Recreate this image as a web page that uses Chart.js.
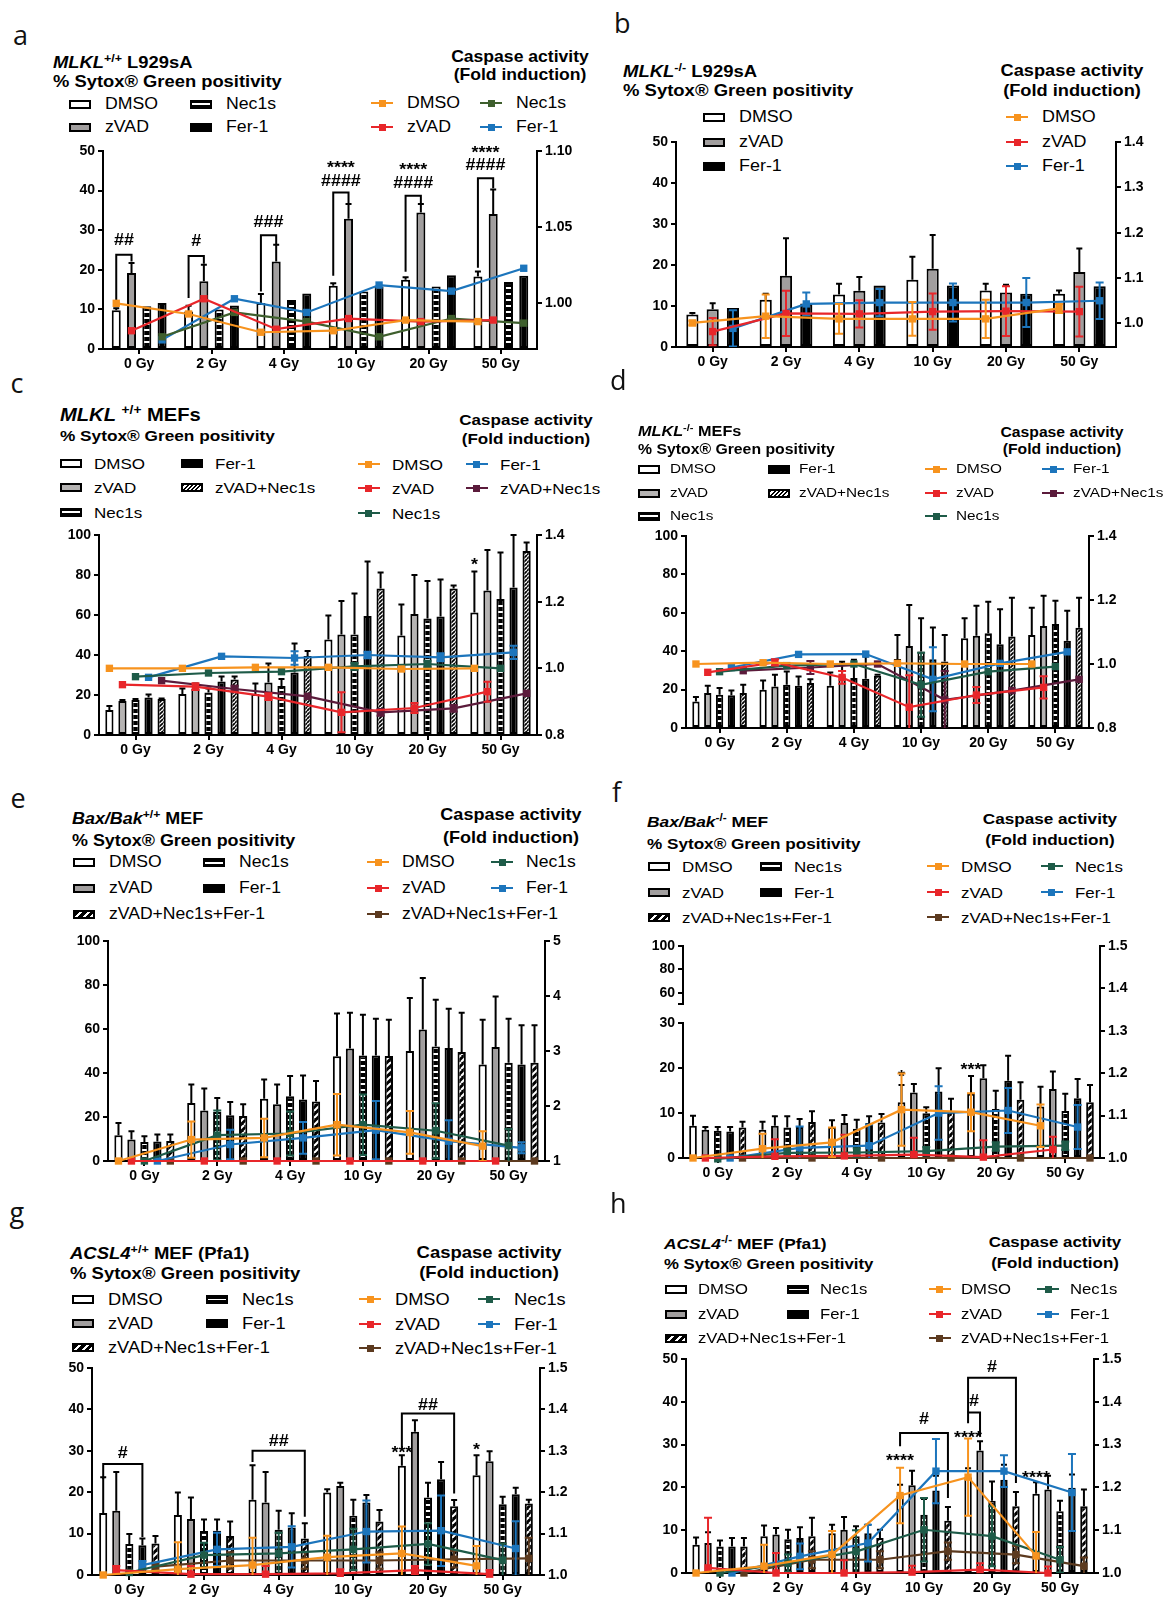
<!DOCTYPE html>
<html>
<head>
<meta charset="utf-8">
<title>Sytox Green / caspase activity panels</title>
<script src="https://cdn.jsdelivr.net/npm/chart.js@4.4.1/dist/chart.umd.min.js"></script>
<style>
  html, body { margin: 0; padding: 0; background: #fff; }
  body { position: relative; width: 1170px; height: 1603px; overflow: hidden;
         font-family: "Liberation Sans", Arial, sans-serif; color: #000; }
  .t { position: absolute; white-space: nowrap; line-height: 1; }
  .t sup { font-size: 0.68em; line-height: 0; vertical-align: 0.55em; }
  .letter { position: absolute; font-family: "Open Sans", sans-serif; font-size: 27px; line-height: 1; color: #111; }
  .ico { position: absolute; box-sizing: border-box; }
  canvas { position: absolute; }
</style>
</head>
<body>
<script>
const doses = ['0 Gy', '2 Gy', '4 Gy', '10 Gy', '20 Gy', '50 Gy'];

// a - MLKL+/+ L929sA
const aTicksL = [0, 10, 20, 30, 40, 50];
const aTicksR = [1.00, 1.05, 1.10];
const aDMSO = [9.8, 9.5, 11.6, 16.0, 17.5, 18.3];
const aDMSOErr = [0.5, 1.4, 2.3, 0.6, 0.6, 1.3];
const aZVAD = [19.2, 17.1, 22.1, 32.9, 34.5, 34.1];
const aZVADErr = [2.5, 4.2, 4.2, 3.7, 2.1, 6.2];
const aNec1s = [10.8, 10.0, 12.4, 14.5, 15.8, 16.9];
const aFer1 = [11.6, 11.0, 14.0, 15.8, 18.6, 18.5];
const aCasDMSO = [1.000, 0.993, 0.981, 0.982, 0.989, 0.988];
const aCasZVAD = [0.982, 1.003, 0.983, 0.990, 0.988, 0.989];
const aCasNec1s = [0.978, 0.994, 0.988, 0.978, 0.990, 0.987];
const aCasFer1 = [0.976, 1.003, 0.994, 1.012, 1.008, 1.023];
const aMarks = [
  {type: 'bracket', g: 0, b1: 0, b2: 1, v: 23.8, v1: 12.0, v2: 22.1}, {type: 'text', g: 0, b1: 0, b2: 1, v: 27.5, t: '##'},
  {type: 'bracket', g: 1, b1: 0, b2: 1, v: 23.5, v1: 12.9, v2: 21.5}, {type: 'text', g: 1, b1: 0, b2: 1, v: 27.0, t: '#'},
  {type: 'bracket', g: 2, b1: 0, b2: 1, v: 28.7, v1: 14.5, v2: 26.5}, {type: 'text', g: 2, b1: 0, b2: 1, v: 31.9, t: '###'},
  {type: 'bracket', g: 3, b1: 0, b2: 1, v: 39.5, v1: 18.5, v2: 36.8}, {type: 'text', g: 3, b1: 0, b2: 1, v: 42.3, t: '####'},
  {type: 'text', g: 3, b1: 0, b2: 1, v: 46.5, t: '****'},
  {type: 'bracket', g: 4, b1: 0, b2: 1, v: 38.7, v1: 19.5, v2: 36.8}, {type: 'text', g: 4, b1: 0, b2: 1, v: 41.8, t: '####'},
  {type: 'text', g: 4, b1: 0, b2: 1, v: 46.1, t: '****'},
  {type: 'bracket', g: 5, b1: 0, b2: 1, v: 43.1, v1: 20.5, v2: 40.6}, {type: 'text', g: 5, b1: 0, b2: 1, v: 46.3, t: '####'},
  {type: 'text', g: 5, b1: 0, b2: 1, v: 50.4, t: '****'}
];

// b - MLKL-/- L929sA
const bTicksL = [0, 10, 20, 30, 40, 50];
const bTicksR = [1.0, 1.1, 1.2, 1.3, 1.4];
const bDMSO = [7.9, 11.5, 12.8, 16.4, 13.8, 13.0];
const bDMSOErr = [0.4, 1.5, 2.6, 5.6, 1.6, 0.8];
const bZVAD = [9.2, 17.4, 13.7, 19.1, 13.3, 18.3];
const bZVADErr = [1.5, 9.1, 3.4, 8.2, 1.9, 5.7];
const bFer1 = [9.5, 10.6, 15.0, 15.0, 13.0, 14.8];
const bCasDMSO = [1.001, 1.016, 1.010, 1.010, 1.010, 1.033];
const bCasDMSOErr = [0.005, 0.048, 0.033, 0.037, 0.042, 0.010];
const bCasZVAD = [0.982, 1.022, 1.021, 1.026, 1.027, 1.026];
const bCasZVADErr = [0.030, 0.050, 0.030, 0.040, 0.055, 0.055];
const bCasFer1 = [0.989, 1.043, 1.046, 1.046, 1.046, 1.050];
const bCasFer1Err = [0.040, 0.025, 0.030, 0.042, 0.054, 0.040];

// c - MLKL+/+ MEFs
const cTicksL = [0, 20, 40, 60, 80, 100];
const cTicksR = [0.8, 1.0, 1.2, 1.4];
const cDMSO = [12.5, 20.5, 20.5, 47.8, 49.7, 61.2];
const cDMSOErr = [2.0, 2.8, 5.3, 11.9, 15.6, 20.5];
const cZVAD = [17.0, 23.3, 26.3, 50.3, 60.5, 72.2];
const cZVADErr = [0.5, 2.5, 9.5, 16.7, 19.5, 20.3];
const cNec1s = [17.5, 21.3, 24.5, 50.3, 58.3, 68.0];
const cNec1sErr = [0.5, 2.0, 3.5, 20.5, 18.7, 23.3];
const cFer1 = [18.8, 26.7, 31.2, 59.5, 59.2, 73.7];
const cFer1Err = [1.5, 2.5, 14.6, 27.2, 18.6, 26.3];
const cZN = [18.0, 27.8, 39.5, 73.3, 73.3, 92.0];
const cZNErr = [0.3, 1.4, 2.5, 8.0, 1.4, 4.3];
const cCasDMSO = [1.000, 1.000, 1.003, 1.003, 0.998, 1.000];
const cCasZVAD = [0.951, 0.945, 0.915, 0.868, 0.881, 0.930];
const cCasZVADErr = [0, 0.010, 0.010, 0.060, 0.015, 0.030];
const cCasNec1s = [0.975, 0.986, 0.990, 1.006, 1.013, 1.000];
const cCasNec1sErr = [0, 0, 0, 0.010, 0.010, 0];
const cCasFer1 = [0.973, 1.036, 1.031, 1.040, 1.033, 1.048];
const cCasFer1Err = [0, 0, 0.020, 0.010, 0.012, 0.020];
const cCasZN = [0.963, 0.938, 0.916, 0.868, 0.880, 0.925];
const cCasZNErr = [0, 0.010, 0, 0.010, 0.010, 0];
const cMarks = [{type: 'text', g: 5, b1: 0, v: 86.7, t: '*'}];

// d - MLKL-/- MEFs
const dTicksL = [0, 20, 40, 60, 80, 100];
const dTicksR = [0.8, 1.0, 1.2, 1.4];
const dDMSO = [13.8, 19.9, 22.0, 36.0, 46.7, 48.4];
const dDMSOErr = [2.3, 4.8, 6.9, 12.4, 10.4, 14.2];
const dZVAD = [18.2, 21.6, 27.5, 42.7, 48.1, 53.1];
const dZVADErr = [3.8, 6.1, 7.0, 21.3, 15.6, 15.8];
const dNec1s = [17.3, 22.5, 26.0, 39.8, 49.3, 54.2];
const dNec1sErr = [3.5, 6.9, 9.5, 17.3, 16.4, 12.1];
const dFer1 = [17.0, 22.0, 25.6, 35.8, 43.6, 45.5];
const dFer1Err = [2.5, 4.8, 11.6, 16.6, 18.2, 15.6];
const dZN = [18.2, 23.4, 27.2, 34.6, 47.6, 52.2];
const dZNErr = [4.3, 2.0, 0.5, 13.8, 20.2, 15.6];
const dCasDMSO = [1.000, 1.004, 1.000, 1.002, 1.000, 1.000];
const dCasZVAD = [0.974, 1.005, 0.958, 0.865, 0.903, 0.927];
const dCasZVADErr = [0, 0.010, 0.020, 0.100, 0.025, 0.035];
const dCasNec1s = [0.976, 0.995, 1.000, 0.935, 0.976, 0.992];
const dCasNec1sErr = [0, 0, 0, 0.100, 0, 0];
const dCasFer1 = [0.989, 1.030, 1.031, 0.952, 1.002, 1.038];
const dCasFer1Err = [0, 0, 0, 0.100, 0, 0];
const dCasZN = [0.979, 0.989, 1.000, 0.888, 0.917, 0.952];
const dCasZNErr = [0, 0.020, 0, 0.090, 0, 0];

// e - Bax/Bak+/+ MEF
const eTicksL = [0, 20, 40, 60, 80, 100];
const eTicksR = [1, 2, 3, 4, 5];
const eDMSO = [11.7, 26.4, 28.3, 47.6, 50.0, 43.9];
const eDMSOErr = [5.6, 8.4, 8.7, 19.4, 24.1, 20.3];
const eZVAD = [9.8, 23.0, 25.8, 51.1, 59.8, 51.8];
const eZVADErr = [3.7, 9.9, 9.0, 16.3, 23.4, 23.0];
const eNec1s = [8.6, 22.3, 29.4, 48.0, 52.1, 44.7];
const eNec1sErr = [2.6, 6.3, 9.2, 18.5, 21.2, 20.0];
const eFer1 = [8.9, 20.8, 28.0, 48.0, 51.4, 43.9];
const eFer1Err = [3.1, 6.0, 10.9, 16.7, 17.8, 17.8];
const eZNF = [9.1, 20.5, 27.1, 47.7, 49.5, 44.7];
const eZNFErr = [2.9, 5.3, 9.3, 16.5, 17.9, 17.0];
const eCasDMSO = [1.00, 1.39, 1.42, 1.66, 1.52, 1.27];
const eCasDMSOErr = [0, 0.33, 0.35, 0.56, 0.39, 0.27];
const eCasZVAD = [1.00, 1.00, 1.00, 1.00, 1.00, 1.00];
const eCasNec1s = [1.00, 1.47, 1.50, 1.66, 1.55, 1.28];
const eCasNec1sErr = [0, 0.45, 0.40, 0.55, 0.50, 0.30];
const eCasFer1 = [1.00, 1.30, 1.42, 1.56, 1.36, 1.24];
const eCasFer1Err = [0, 0.27, 0.29, 0.53, 0.38, 0.10];
const eCasZNF = [1.00, 1.00, 1.00, 1.00, 1.00, 1.00];

// f - Bax/Bak-/- MEF (broken left axis)
const fTicksLow = [0, 10, 20, 30];
const fTicksHigh = [50, 60, 80, 100];
const fTicksR = [1.0, 1.1, 1.2, 1.3, 1.4, 1.5];
const fDMSO = [7.2, 6.3, 6.9, 12.4, 14.3, 11.5];
const fDMSOErr = [2.2, 1.8, 1.5, 3.9, 4.0, 4.4];
const fZVAD = [6.3, 7.2, 7.8, 14.6, 17.8, 15.4];
const fZVADErr = [0.6, 2.1, 1.8, 1.9, 2.9, 3.9];
const fNec1s = [6.1, 6.8, 6.5, 10.0, 10.9, 10.5];
const fNec1sErr = [0.8, 2.5, 2.0, 1.3, 4.1, 3.8];
const fFer1 = [5.9, 6.9, 7.8, 14.8, 17.2, 13.3];
const fFer1Err = [1.0, 1.8, 1.5, 5.2, 5.6, 4.3];
const fZNF = [6.8, 8.0, 7.9, 10.5, 13.0, 12.4];
const fZNFErr = [1.3, 2.4, 1.9, 2.7, 3.9, 3.9];
const fCasDMSO = [1.000, 1.022, 1.037, 1.114, 1.108, 1.076];
const fCasDMSOErr = [0, 0.035, 0.035, 0.085, 0.045, 0.050];
const fCasZVAD = [1.000, 1.004, 1.005, 1.008, 1.002, 1.020];
const fCasZVADErr = [0, 0.040, 0.050, 0.040, 0.040, 0.030];
const fCasNec1s = [0.998, 1.012, 1.013, 1.016, 1.027, 1.029];
const fCasNec1sErr = [0, 0.010, 0.010, 0.010, 0.010, 0.010];
const fCasFer1 = [1.000, 1.024, 1.029, 1.106, 1.112, 1.073];
const fCasFer1Err = [0, 0.050, 0.050, 0.063, 0.053, 0.052];
const fCasZNF = [1.000, 1.000, 1.000, 1.000, 1.000, 1.000];
const fMarks = [{type: 'text', g: 3, b1: 0, v: 18.9, t: '*'}, {type: 'text', g: 4, b1: 0, v: 20.4, t: '***'}];

// g - ACSL4+/+ MEF (Pfa1)
const gTicksL = [0, 10, 20, 30, 40, 50];
const gTicksR = [1.0, 1.1, 1.2, 1.3, 1.4, 1.5];
const gDMSO = [15.0, 14.5, 18.2, 19.9, 26.4, 24.1];
const gDMSOErr = [8.6, 5.4, 8.3, 0.8, 2.5, 4.8];
const gZVAD = [15.5, 13.5, 17.5, 21.5, 34.6, 27.5];
const gZVADErr = [9.4, 5.2, 7.4, 0.8, 2.8, 2.4];
const gNec1s = [7.5, 10.6, 10.9, 14.3, 18.7, 17.1];
const gNec1sErr = [2.4, 2.8, 4.6, 3.9, 3.6, 1.8];
const gFer1 = [7.2, 10.7, 11.5, 17.5, 23.1, 19.5];
const gFer1Err = [1.6, 2.7, 3.4, 1.8, 4.2, 1.6];
const gZNF = [7.6, 9.4, 8.8, 12.9, 16.6, 17.3];
const gZNFErr = [1.8, 3.5, 3.7, 2.8, 1.5, 0.9];
const gCasDMSO = [1.000, 1.014, 1.024, 1.043, 1.052, 1.022];
const gCasDMSOErr = [0, 0.065, 0.066, 0.052, 0.065, 0.048];
const gCasZVAD = [1.012, 1.002, 1.002, 1.004, 1.012, 1.002];
const gCasZVADErr = [0.010, 0.020, 0.020, 0.010, 0.010, 0.010];
const gCasNec1s = [1.006, 1.048, 1.052, 1.062, 1.075, 1.036];
const gCasNec1sErr = [0, 0.030, 0.050, 0.050, 0.050, 0.040];
const gCasFer1 = [1.024, 1.062, 1.068, 1.105, 1.107, 1.064];
const gCasFer1Err = [0.010, 0.040, 0.050, 0.075, 0.085, 0.066];
const gCasZNF = [1.020, 1.035, 1.035, 1.035, 1.038, 1.040];
const gCasZNFErr = [0.010, 0.020, 0.020, 0.020, 0.020, 0.050];
const gMarks = [
  {type: 'bracket', g: 0, b1: 0, b2: 3, v: 26.8, v1: 23.1, v2: 9.2}, {type: 'text', g: 0, b1: 0, b2: 3, v: 29.3, t: '#'},
  {type: 'bracket', g: 2, b1: 0, b2: 4, v: 30.0, v1: 27.3, v2: 14.1}, {type: 'text', g: 2, b1: 0, b2: 4, v: 32.2, t: '##'},
  {type: 'bracket', g: 4, b1: 0, b2: 4, v: 39.0, v1: 30.5, v2: 19.7}, {type: 'text', g: 4, b1: 0, b2: 4, v: 40.8, t: '##'},
  {type: 'text', g: 4, b1: 0, v: 30.3, t: '***'},
  {type: 'text', g: 5, b1: 0, v: 31.1, t: '*'}
];

// h - ACSL4-/- MEF (Pfa1)
const hTicksL = [0, 10, 20, 30, 40, 50];
const hTicksR = [1.0, 1.1, 1.2, 1.3, 1.4, 1.5];
const hDMSO = [6.6, 8.6, 9.3, 18.1, 22.4, 18.5];
const hDMSOErr = [1.7, 2.5, 2.0, 2.5, 2.1, 2.7];
const hZVAD = [7.0, 9.0, 10.1, 20.5, 28.6, 19.5];
const hZVADErr = [2.5, 1.5, 3.0, 3.4, 2.2, 3.2];
const hNec1s = [6.2, 7.9, 8.6, 13.6, 16.9, 14.4];
const hNec1sErr = [1.4, 2.2, 2.3, 3.7, 4.5, 2.5];
const hFer1 = [6.2, 8.2, 9.3, 19.3, 21.8, 19.9];
const hFer1Err = [2.0, 2.5, 2.0, 3.4, 3.5, 3.1];
const hZNF = [6.2, 8.6, 8.2, 12.2, 15.6, 15.6];
const hZNFErr = [2.0, 4.3, 1.9, 3.2, 3.3, 3.9];
const hCasDMSO = [1.000, 1.016, 1.043, 1.181, 1.224, 1.040];
const hCasDMSOErr = [0, 0.050, 0.055, 0.065, 0.090, 0.056];
const hCasZVAD = [1.012, 1.000, 1.000, 1.002, 1.008, 1.000];
const hCasZVADErr = [0.117, 0.047, 0.030, 0.015, 0.015, 0.015];
const hCasNec1s = [1.000, 1.023, 1.050, 1.101, 1.086, 1.031];
const hCasNec1sErr = [0, 0.020, 0.050, 0.074, 0.070, 0.030];
const hCasFer1 = [1.000, 1.039, 1.070, 1.238, 1.238, 1.188];
const hCasFer1Err = [0, 0.030, 0.043, 0.075, 0.037, 0.090];
const hCasZNF = [1.000, 1.031, 1.031, 1.051, 1.043, 1.016];
const hCasZNFErr = [0, 0.020, 0.020, 0.020, 0.020, 0.020];
const hMarks = [
  {type: 'text', g: 3, b1: 0, v: 26.9, t: '****'},
  {type: 'bracket', g: 3, b1: 0, b2: 4, v: 32.7, v1: 29.6, v2: 17.5}, {type: 'text', g: 3, b1: 0, b2: 4, v: 35.8, t: '#'},
  {type: 'text', g: 4, b1: 0, v: 32.3, t: '****'},
  {type: 'bracket', g: 4, b1: 0, b2: 1, v: 37.5, v1: 35.0, v2: 31.9}, {type: 'text', g: 4, b1: 0, b2: 1, v: 40.1, t: '#'},
  {type: 'bracket', g: 4, b1: 0, b2: 4, v: 45.6, v1: 37.5, v2: 21.0}, {type: 'text', g: 4, b1: 0, b2: 4, v: 47.9, t: '#'},
  {type: 'text', g: 5, b1: 0, v: 23.0, t: '****'}
];

const GRAY = '#a19e9e', GRAY2 = '#b5b3b2';
const COL = {dmso: '#f7931e', zvad: '#e8262a', nec: '#1e5b48', necA: '#3e5f2d', fer: '#1c75bc', zn: '#5b1b3b', znf: '#5c3a1f'};
const STRETCH = 1.12;
const FONT = '"Liberation Sans", Arial, sans-serif';

// ---------- text + legends ----------
function addText(html, x, base, size, bold, center) {
  const el = document.createElement('div');
  el.className = 't';
  el.innerHTML = html;
  el.style.fontSize = size + 'px';
  el.style.fontWeight = bold ? 'bold' : 'normal';
  el.style.left = x + 'px';
  el.style.top = (base - 0.847 * size) + 'px';
  if (center) {
    el.style.transformOrigin = '50% 0';
    el.style.transform = 'translateX(-50%) scaleX(' + STRETCH + ')';
  } else {
    el.style.transformOrigin = '0 0';
    el.style.transform = 'scaleX(' + STRETCH + ')';
  }
  document.body.appendChild(el);
}

function box(x, y, w, h, css) {
  const el = document.createElement('div');
  el.className = 'ico';
  el.style.left = x + 'px'; el.style.top = y + 'px';
  el.style.width = w + 'px'; el.style.height = h + 'px';
  Object.assign(el.style, css);
  document.body.appendChild(el);
}

function barIcon(kind, x, cy, gray) {
  const bg = {
    dmso: '#fff', zvad: gray, fer: '#000',
    nec: 'linear-gradient(#000 0 30%, #fff 30% 70%, #000 70%)',
    zn: 'repeating-linear-gradient(135deg, #000 0 1.4px, #fff 1.4px 3px)',
    znf: 'repeating-linear-gradient(135deg, #000 0 3px, #fff 3px 5.5px)'
  }[kind];
  box(x, cy - 4.5, 22, 9, {border: '2px solid #000', background: bg});
}

function lineIcon(color, x, cy) {
  box(x, cy - 1, 22, 2, {background: color});
  box(x + 7.5, cy - 3.5, 7, 7, {background: color});
}

// ---------- canvas fills ----------
function tile(w, h, draw) {
  const c = document.createElement('canvas');
  c.width = w; c.height = h;
  const g = c.getContext('2d');
  draw(g, w, h);
  return g.createPattern(c, 'repeat');
}
function diag(g, n, lw, color) {
  g.strokeStyle = color; g.lineWidth = lw;
  for (const k of [-n, 0, n]) { g.beginPath(); g.moveTo(k, n); g.lineTo(k + n, 0); g.stroke(); }
}
const FILLS = {
  nec: tile(4, 6, (g) => { g.fillStyle = '#000'; g.fillRect(0, 0, 4, 6); g.fillStyle = '#fff'; g.fillRect(0, 2, 4, 2); }),
  zn: tile(4, 4, (g) => { g.fillStyle = '#fff'; g.fillRect(0, 0, 4, 4); diag(g, 4, 1.7, '#000'); }),
  znf: tile(7, 7, (g) => { g.fillStyle = '#000'; g.fillRect(0, 0, 7, 7); diag(g, 7, 2, '#fff'); })
};
function fillOf(kind, gray) {
  if (kind === 'dmso') return '#fff';
  if (kind === 'zvad') return gray;
  if (kind === 'fer') return '#000';
  return FILLS[kind];
}

// ---------- plugins ----------
const errPlugin = {
  id: 'errBars',
  afterDatasetDraw(chart, args) {
    const ds = chart.data.datasets[args.index];
    if (!ds.errs) return;
    const meta = args.meta, ctx = chart.ctx, ys = chart.scales[meta.yAxisID], a = chart.chartArea;
    const isBar = ds.type === 'bar';
    ctx.save();
    ctx.beginPath(); ctx.rect(a.left - 10, a.top - 2, a.right - a.left + 20, a.bottom - a.top + 2); ctx.clip();
    ctx.strokeStyle = isBar ? '#000' : ds.borderColor;
    ctx.lineWidth = 2;
    meta.data.forEach((el, i) => {
      const e = ds.errs[i];
      if (!e) return;
      const v = isBar ? ds.data[i] : ds.data[i].y;
      const x = el.x, hi = ys.getPixelForValue(v + e);
      const lo = isBar ? ys.getPixelForValue(v) : ys.getPixelForValue(v - e);
      const cw = isBar ? 3 : 4;
      ctx.beginPath();
      ctx.moveTo(x, lo); ctx.lineTo(x, hi);
      ctx.moveTo(x - cw, hi); ctx.lineTo(x + cw, hi);
      if (!isBar) { ctx.moveTo(x - cw, lo); ctx.lineTo(x + cw, lo); }
      ctx.stroke();
    });
    ctx.restore();
  }
};

const markPlugin = {
  id: 'marks',
  afterDraw(chart) {
    const items = chart.canvas.$marks || [];
    const ctx = chart.ctx, ys = chart.scales.y;
    const bx = (b, g) => chart.getDatasetMeta(b).data[g].x;
    ctx.save();
    ctx.strokeStyle = '#000'; ctx.fillStyle = '#000'; ctx.lineWidth = 2;
    ctx.font = 'bold 16px ' + FONT;
    ctx.textAlign = 'center'; ctx.textBaseline = 'middle';
    items.forEach(m => {
      if (m.type === 'bracket') {
        const x1 = bx(m.b1, m.g), x2 = bx(m.b2, m.g), y = ys.getPixelForValue(m.v);
        ctx.beginPath();
        ctx.moveTo(x1, ys.getPixelForValue(m.v1)); ctx.lineTo(x1, y);
        ctx.lineTo(x2, y); ctx.lineTo(x2, ys.getPixelForValue(m.v2));
        ctx.stroke();
      } else {
        const x = m.b2 !== undefined ? (bx(m.b1, m.g) + bx(m.b2, m.g)) / 2 : bx(m.b1, m.g);
        const y = ys.getPixelForValue(m.v) + (m.t[0] === '*' ? 4 : 0);
        ctx.save(); ctx.translate(x, y); ctx.scale(STRETCH, 1);
        ctx.fillText(m.t, 0, 0);
        ctx.restore();
      }
    });
    ctx.restore();
  }
};

// ---------- axes ----------
const tickFont = {family: FONT, weight: 'bold', size: 14};
function yAxis(pos, min, max, ticks, fmt, extra) {
  return Object.assign({
    type: 'linear', position: pos, min: min, max: max,
    afterBuildTicks: s => { s.ticks = ticks.map(v => ({value: v})); },
    afterFit: s => { s.width = 60; },
    grid: {drawOnChartArea: false, color: '#000', lineWidth: 2, tickLength: 5},
    border: {color: '#000', width: 2},
    ticks: {color: '#000', font: tickFont, padding: 3, autoSkip: false, callback: fmt}
  }, extra || {});
}
// invisible axis that only reserves the same room as the visible one
function ghostAxis(type, pos, extra) {
  return Object.assign({
    type: type, position: pos,
    grid: {display: false}, border: {display: false}, ticks: {display: false},
    afterFit: s => { if (pos === 'bottom') s.height = 30; else s.width = 60; }
  }, extra || {});
}

function makeCanvas(p) {
  const L = Math.round(p.area[0]), T = Math.round(p.area[1]), R = Math.round(p.area[2]), B = Math.round(p.area[3]);
  const cv = document.createElement('canvas');
  cv.width = R - L + 120; cv.height = B - T + 70;
  cv.style.left = (L - 60) + 'px'; cv.style.top = (T - 40) + 'px';
  document.body.appendChild(cv);
  return cv;
}

const baseOptions = {
  responsive: false, maintainAspectRatio: false, animation: false, events: [],
  layout: {padding: {top: 40, left: 0, right: 0, bottom: 0}},
  plugins: {legend: {display: false}, tooltip: {enabled: false}}
};

function buildCharts(p) {
  // bars: % Sytox Green positivity on the left axis
  const cvBars = makeCanvas(p);
  cvBars.$marks = p.marks || [];
  const barSets = p.bars.map(b => ({
    type: 'bar', data: b.d, errs: b.e,
    backgroundColor: fillOf(b.k, p.gray), borderColor: '#000', borderWidth: 2, borderSkipped: false,
    categoryPercentage: p.cat, barPercentage: p.bar
  }));
  const intFmt = v => String(v);
  const scales = {
    x: {
      type: 'category', offset: true,
      grid: {display: true, drawOnChartArea: false, offset: false, color: '#000', lineWidth: 2, tickLength: 5},
      border: {color: '#000', width: 2},
      ticks: {color: '#000', font: tickFont, padding: 2, maxRotation: 0, autoSkip: false},
      afterFit: s => { s.height = 30; }
    }
  };
  if (p.broken) {
    scales.y = yAxis('left', 0, 30, p.broken.low, intFmt, {stack: 'left', stackWeight: p.broken.w[2]});
    scales.ySpacer = {type: 'linear', position: 'left', display: false, min: 0, max: 1, stack: 'left', stackWeight: p.broken.w[1]};
    scales.yUp = yAxis('left', 50, 100, p.broken.high, v => (v === 50 ? '' : String(v)), {stack: 'left', stackWeight: p.broken.w[0]});
  } else {
    scales.y = yAxis('left', 0, p.yl.max, p.yl.ticks, intFmt);
  }
  scales.yr = yAxis('right', p.yr.min, p.yr.max, p.yr.ticks, v => v.toFixed(p.yr.dec));
  new Chart(cvBars, {
    type: 'bar',
    data: {labels: doses, datasets: barSets},
    options: Object.assign({}, baseOptions, {scales: scales}),
    plugins: [errPlugin, markPlugin]
  });

  // lines: caspase activity on the right axis, overlaid on the same plot area
  const cvLines = makeCanvas(p);
  const nb = p.bars.length;
  const lineSets = p.lines.map(l => ({
    type: 'line', errs: l.e,
    data: l.d.map((v, i) => ({x: i + (l.slot - (nb - 1) / 2) * p.cat / nb, y: v})),
    borderColor: l.c, backgroundColor: l.c, borderWidth: 2.2, tension: 0,
    pointStyle: 'rect', pointRadius: 5.2, pointBorderWidth: 0, clip: false,
    xAxisID: 'x', yAxisID: 'yr'
  }));
  new Chart(cvLines, {
    type: 'line',
    data: {datasets: lineSets},
    options: Object.assign({}, baseOptions, {
      scales: {
        x: ghostAxis('linear', 'bottom', {min: -0.5, max: 5.5}),
        y: ghostAxis('linear', 'left', {min: 0, max: 1}),
        yr: ghostAxis('linear', 'right', {min: p.yr.min, max: p.yr.max})
      }
    }),
    plugins: [errPlugin]
  });
}

function buildPanel(p) {
  const lt = document.createElement('div');
  lt.className = 'letter'; lt.textContent = p.letter[0];
  lt.style.left = p.letter[1] + 'px'; lt.style.top = (p.letter[2] - 0.888 * 27) + 'px';
  document.body.appendChild(lt);

  addText(p.t.h, p.t.x, p.t.b1, p.t.s1, true, false);
  addText('% Sytox® Green positivity', p.t.x, p.t.b2, p.t.s2, true, false);
  addText('Caspase activity', p.rt.cx, p.rt.b1, p.rt.s, true, true);
  addText('(Fold induction)', p.rt.cx, p.rt.b2, p.rt.s, true, true);

  p.bl.items.forEach(([c, r, kind, label]) => {
    const x = p.bl.cols[c], cy = p.bl.rows[r];
    barIcon(kind, x, cy, p.gray);
    addText(label, x + p.bl.dx, cy + 0.358 * p.bl.s, p.bl.s, false, false);
  });
  p.ll.items.forEach(([c, r, color, label]) => {
    const x = p.ll.cols[c], cy = p.ll.rows[r];
    lineIcon(color, x, cy);
    addText(label, x + p.ll.dx, cy + 0.358 * p.ll.s, p.ll.s, false, false);
  });
  buildCharts(p);
}

const barLeg4 = [[0, 0, 'dmso', 'DMSO'], [0, 1, 'zvad', 'zVAD'], [1, 0, 'nec', 'Nec1s'], [1, 1, 'fer', 'Fer-1']];
const barLegMEF = [[0, 0, 'dmso', 'DMSO'], [0, 1, 'zvad', 'zVAD'], [0, 2, 'nec', 'Nec1s'], [1, 0, 'fer', 'Fer-1'], [1, 1, 'zn', 'zVAD+Nec1s']];
const barLegTriple = [[0, 0, 'dmso', 'DMSO'], [0, 1, 'zvad', 'zVAD'], [0, 2, 'znf', 'zVAD+Nec1s+Fer-1'], [1, 0, 'nec', 'Nec1s'], [1, 1, 'fer', 'Fer-1']];
const lineLegMEF = [[0, 0, COL.dmso, 'DMSO'], [0, 1, COL.zvad, 'zVAD'], [0, 2, COL.nec, 'Nec1s'], [1, 0, COL.fer, 'Fer-1'], [1, 1, COL.zn, 'zVAD+Nec1s']];
const lineLegTriple = [[0, 0, COL.dmso, 'DMSO'], [0, 1, COL.zvad, 'zVAD'], [0, 2, COL.znf, 'zVAD+Nec1s+Fer-1'], [1, 0, COL.nec, 'Nec1s'], [1, 1, COL.fer, 'Fer-1']];

function fiveBars(d, de, z, ze, n, ne, f, fe, x, xe, lastKind) {
  return [{k: 'dmso', d: d, e: de}, {k: 'zvad', d: z, e: ze}, {k: 'nec', d: n, e: ne}, {k: 'fer', d: f, e: fe}, {k: lastKind, d: x, e: xe}];
}
function fiveLines(d, de, z, ze, n, ne, f, fe, x, xe, lastColor) {
  return [{c: COL.dmso, d: d, e: de, slot: 0}, {c: COL.zvad, d: z, e: ze, slot: 1}, {c: COL.nec, d: n, e: ne, slot: 2},
          {c: COL.fer, d: f, e: fe, slot: 3}, {c: lastColor, d: x, e: xe, slot: 4}];
}

const panels = [
  {
    letter: ['a', 13, 45], area: [102.5, 151, 536.5, 349.3],
    t: {x: 53, b1: 68, b2: 87, s1: 16.4, s2: 16.4, h: '<i>MLKL</i><sup>+/+</sup> L929sA'},
    rt: {cx: 520, b1: 62, b2: 80, s: 15.7},
    bl: {cols: [69, 190], dx: 36, rows: [104, 127], s: 15.8, items: barLeg4},
    ll: {cols: [371, 480], dx: 36, rows: [103, 127], s: 15.8,
         items: [[0, 0, COL.dmso, 'DMSO'], [0, 1, COL.zvad, 'zVAD'], [1, 0, COL.necA, 'Nec1s'], [1, 1, COL.fer, 'Fer-1']]},
    yl: {max: 50, ticks: aTicksL}, yr: {min: 0.97, max: 1.10, ticks: aTicksR, dec: 2},
    cat: 0.845, bar: 0.59, gray: GRAY,
    bars: [{k: 'dmso', d: aDMSO, e: aDMSOErr}, {k: 'zvad', d: aZVAD, e: aZVADErr}, {k: 'nec', d: aNec1s, e: null}, {k: 'fer', d: aFer1, e: null}],
    lines: [{c: COL.dmso, d: aCasDMSO, e: null, slot: 0}, {c: COL.zvad, d: aCasZVAD, e: null, slot: 1},
            {c: COL.necA, d: aCasNec1s, e: null, slot: 3}, {c: COL.fer, d: aCasFer1, e: null, slot: 3}],
    marks: aMarks
  },
  {
    letter: ['b', 614, 33], area: [676, 141.7, 1115.5, 346.7],
    t: {x: 623, b1: 77, b2: 96, s1: 16.5, s2: 16.5, h: '<i>MLKL</i><sup>-/-</sup> L929sA'},
    rt: {cx: 1072, b1: 76, b2: 96, s: 16.3},
    bl: {cols: [703], dx: 36, rows: [117, 142, 166], s: 16, items: [[0, 0, 'dmso', 'DMSO'], [0, 1, 'zvad', 'zVAD'], [0, 2, 'fer', 'Fer-1']]},
    ll: {cols: [1006], dx: 36, rows: [117, 142, 166], s: 16, items: [[0, 0, COL.dmso, 'DMSO'], [0, 1, COL.zvad, 'zVAD'], [0, 2, COL.fer, 'Fer-1']]},
    yl: {max: 50, ticks: bTicksL}, yr: {min: 0.948, max: 1.4, ticks: bTicksR, dec: 1},
    cat: 0.83, bar: 0.6, gray: GRAY,
    bars: [{k: 'dmso', d: bDMSO, e: bDMSOErr}, {k: 'zvad', d: bZVAD, e: bZVADErr}, {k: 'fer', d: bFer1, e: null}],
    lines: [{c: COL.dmso, d: bCasDMSO, e: bCasDMSOErr, slot: 0}, {c: COL.zvad, d: bCasZVAD, e: bCasZVADErr, slot: 1},
            {c: COL.fer, d: bCasFer1, e: bCasFer1Err, slot: 2}]
  },
  {
    letter: ['c', 10.5, 393], area: [99, 535, 537.4, 735],
    t: {x: 59.5, b1: 421, b2: 441, s1: 18, s2: 15.4, h: '<i>MLKL</i> <sup>+/+</sup> MEFs'},
    rt: {cx: 526, b1: 425, b2: 444, s: 15.2},
    bl: {cols: [59.5, 180.6], dx: 34.5, rows: [463, 487, 512], s: 15.2, items: barLegMEF},
    ll: {cols: [357.5, 465.6], dx: 34, rows: [464, 488, 513], s: 15.2, items: lineLegMEF},
    yl: {max: 100, ticks: cTicksL}, yr: {min: 0.8, max: 1.4, ticks: cTicksR, dec: 1},
    cat: 0.894, bar: 0.63, gray: GRAY2,
    bars: fiveBars(cDMSO, cDMSOErr, cZVAD, cZVADErr, cNec1s, cNec1sErr, cFer1, cFer1Err, cZN, cZNErr, 'zn'),
    lines: fiveLines(cCasDMSO, null, cCasZVAD, cCasZVADErr, cCasNec1s, cCasNec1sErr, cCasFer1, cCasFer1Err, cCasZN, cCasZNErr, COL.zn),
    marks: cMarks
  },
  {
    letter: ['d', 610, 390], area: [686.4, 535.7, 1089, 728.3],
    t: {x: 638, b1: 436, b2: 454, s1: 14.5, s2: 14.1, h: '<i>MLKL</i><sup>-/-</sup> MEFs'},
    rt: {cx: 1062, b1: 437, b2: 454, s: 14},
    bl: {cols: [638, 767.6], dx: 31.5, rows: [469, 493, 516], s: 13.7, items: barLegMEF},
    ll: {cols: [925, 1042], dx: 31, rows: [469, 493, 516], s: 13.7, items: lineLegMEF},
    yl: {max: 100, ticks: dTicksL}, yr: {min: 0.8, max: 1.4, ticks: dTicksR, dec: 1},
    cat: 0.88, bar: 0.62, gray: GRAY2,
    bars: fiveBars(dDMSO, dDMSOErr, dZVAD, dZVADErr, dNec1s, dNec1sErr, dFer1, dFer1Err, dZN, dZNErr, 'zn'),
    lines: fiveLines(dCasDMSO, null, dCasZVAD, dCasZVADErr, dCasNec1s, dCasNec1sErr, dCasFer1, dCasFer1Err, dCasZN, dCasZNErr, COL.zn)
  },
  {
    letter: ['e', 10.5, 808], area: [108, 940.7, 545, 1160.7],
    t: {x: 71.5, b1: 825, b2: 847, s1: 16, s2: 16, h: '<i>Bax/Bak</i><sup>+/+</sup> MEF'},
    rt: {cx: 511, b1: 820, b2: 843, s: 16.1},
    bl: {cols: [72.6, 203], dx: 36, rows: [862, 888, 914], s: 15.7, items: barLegTriple},
    ll: {cols: [367, 491], dx: 35, rows: [862, 888, 914], s: 15.7, items: lineLegTriple},
    yl: {max: 100, ticks: eTicksL}, yr: {min: 1, max: 5, ticks: eTicksR, dec: 0},
    cat: 0.89, bar: 0.64, gray: GRAY,
    bars: fiveBars(eDMSO, eDMSOErr, eZVAD, eZVADErr, eNec1s, eNec1sErr, eFer1, eFer1Err, eZNF, eZNFErr, 'znf'),
    lines: fiveLines(eCasDMSO, eCasDMSOErr, eCasZVAD, null, eCasNec1s, eCasNec1sErr, eCasFer1, eCasFer1Err, eCasZNF, null, COL.znf)
  },
  {
    letter: ['f', 612, 802], area: [683, 945.7, 1100, 1158.3],
    t: {x: 647, b1: 827, b2: 849, s1: 15.5, s2: 15.3, h: '<i>Bax/Bak</i><sup>-/-</sup> MEF'},
    rt: {cx: 1050, b1: 824, b2: 845, s: 15.3},
    bl: {cols: [648, 760], dx: 34, rows: [866, 892, 917], s: 15.1, items: barLegTriple},
    ll: {cols: [927, 1040.6], dx: 34, rows: [866, 892, 917], s: 15.1, items: lineLegTriple},
    broken: {low: fTicksLow, high: fTicksHigh, w: [176, 57, 405]},
    yr: {min: 1.0, max: 1.5, ticks: fTicksR, dec: 1},
    cat: 0.89, bar: 0.62, gray: GRAY,
    bars: fiveBars(fDMSO, fDMSOErr, fZVAD, fZVADErr, fNec1s, fNec1sErr, fFer1, fFer1Err, fZNF, fZNFErr, 'znf'),
    lines: fiveLines(fCasDMSO, fCasDMSOErr, fCasZVAD, fCasZVADErr, fCasNec1s, fCasNec1sErr, fCasFer1, fCasFer1Err, fCasZNF, null, COL.znf),
    marks: fMarks
  },
  {
    letter: ['g', 9.4, 1222], area: [91.5, 1367.7, 539.5, 1575],
    t: {x: 69.6, b1: 1259, b2: 1279, s1: 16.5, s2: 16.5, h: '<i>ACSL4</i><sup>+/+</sup> MEF (Pfa1)'},
    rt: {cx: 489, b1: 1258, b2: 1278, s: 16.5},
    bl: {cols: [71.5, 206], dx: 36, rows: [1299, 1323, 1347], s: 16.3, items: barLegTriple},
    ll: {cols: [359.4, 478], dx: 36, rows: [1299, 1324, 1348], s: 16.3, items: lineLegTriple},
    yl: {max: 50, ticks: gTicksL}, yr: {min: 1.0, max: 1.5, ticks: gTicksR, dec: 1},
    cat: 0.875, bar: 0.62, gray: GRAY,
    bars: fiveBars(gDMSO, gDMSOErr, gZVAD, gZVADErr, gNec1s, gNec1sErr, gFer1, gFer1Err, gZNF, gZNFErr, 'znf'),
    lines: fiveLines(gCasDMSO, gCasDMSOErr, gCasZVAD, gCasZVADErr, gCasNec1s, gCasNec1sErr, gCasFer1, gCasFer1Err, gCasZNF, gCasZNFErr, COL.znf),
    marks: gMarks
  },
  {
    letter: ['h', 610, 1213], area: [686, 1359.3, 1094.3, 1573.3],
    t: {x: 664, b1: 1249, b2: 1269, s1: 15.5, s2: 15, h: '<i>ACSL4</i><sup>-/-</sup> MEF (Pfa1)'},
    rt: {cx: 1055, b1: 1247, b2: 1268, s: 15.1},
    bl: {cols: [665, 787], dx: 33, rows: [1289, 1314, 1338], s: 14.9, items: barLegTriple},
    ll: {cols: [928.5, 1037], dx: 32.5, rows: [1289, 1314, 1338], s: 14.9, items: lineLegTriple},
    yl: {max: 50, ticks: hTicksL}, yr: {min: 1.0, max: 1.5, ticks: hTicksR, dec: 1},
    cat: 0.88, bar: 0.62, gray: GRAY,
    bars: fiveBars(hDMSO, hDMSOErr, hZVAD, hZVADErr, hNec1s, hNec1sErr, hFer1, hFer1Err, hZNF, hZNFErr, 'znf'),
    lines: fiveLines(hCasDMSO, hCasDMSOErr, hCasZVAD, hCasZVADErr, hCasNec1s, hCasNec1sErr, hCasFer1, hCasFer1Err, hCasZNF, hCasZNFErr, COL.znf),
    marks: hMarks
  }
];

panels.forEach(buildPanel);
</script>
</body>
</html>
